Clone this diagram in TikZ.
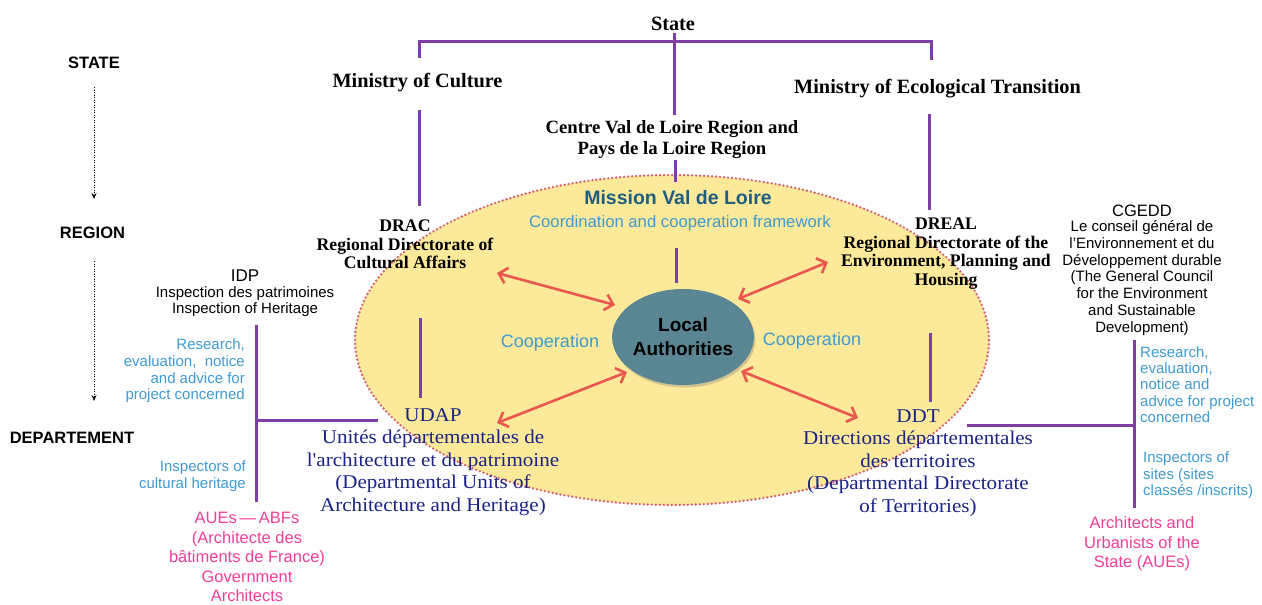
\documentclass[tikz,border=0pt]{standalone}
\usepackage{fontspec}
\setmainfont{Liberation Serif}
\setsansfont{Liberation Sans}
\newfontfamily\deptfont{Liberation Serif}[FakeStretch=1.08]
\usetikzlibrary{arrows.meta,shapes.geometric,shadows}
\definecolor{purp}{HTML}{7D3FA6}
\definecolor{ellfill}{HTML}{FDE99A}
\definecolor{elldot}{HTML}{D45E72}
\definecolor{lacol}{HTML}{5A8693}
\definecolor{mvl}{HTML}{1F5E80}
\definecolor{lblue}{HTML}{3F9AD0}
\definecolor{navyc}{HTML}{1B2385}
\definecolor{pinkc}{HTML}{F23E97}
\definecolor{arrc}{HTML}{E9574E}
\tikzset{
  hdr/.style={font=\bfseries\fontsize{20.3}{23}\selectfont, inner sep=0pt},
  dir/.style={font=\bfseries\fontsize{17.7}{18.6}\selectfont, align=center, inner sep=0pt},
  dept/.style={text=navyc, font=\deptfont\fontsize{19.5}{22.6}\selectfont, align=center, inner sep=0pt},
  lvl/.style={font=\sffamily\bfseries\fontsize{16.5}{18}\selectfont, inner sep=0pt},
  blk/.style={font=\sffamily\fontsize{15}{16.7}\selectfont, align=center, inner sep=0pt},
  note/.style={text=lblue, font=\sffamily\fontsize{15}{16.6}\selectfont, inner sep=0pt},
  pinktxt/.style={text=pinkc, font=\sffamily\fontsize{16.5}{19.4}\selectfont, align=center, inner sep=0pt},
  pline/.style={draw=purp, line width=3pt},
  lvlarrow/.style={draw=black, line width=0.8pt, dash pattern=on 1.2pt off 1.3pt, -{Stealth[length=6pt,width=5pt]}},
  dbl/.style={draw=arrc, line width=2.6pt, {Straight Barb[length=8pt,width=16pt]}-{Straight Barb[length=8pt,width=16pt]}}
}
\begin{document}
\begin{tikzpicture}[x=1pt,y=-1pt]
\useasboundingbox (0,0) rectangle (1262,605);
% mission ellipse
\node[ellipse, minimum width=634pt, minimum height=330pt, inner sep=0pt, fill=ellfill, draw=elldot, line width=2.6pt, line cap=round, dash pattern=on 0pt off 4pt] (mission) at (672,340) {};

% level labels
\node[lvl] (lstate) at (94,63) {STATE};
\node[lvl] (lregion) at (92.5,233) {REGION};
\node[lvl] (ldept) at (72,438) {DEPARTEMENT};
\coordinate (a1) at (94,87);
\coordinate (a2) at (94,199);
\draw[lvlarrow] (a1) -- (a2);
\coordinate (b1) at (94,261);
\coordinate (b2) at (94,401);
\draw[lvlarrow] (b1) -- (b2);

% headers
\node[hdr] (state) at (673,24) {State};
\node[hdr] (minc) at (417.5,83) {Ministry of Culture};
\node[hdr] (mine) at (937.5,89) {Ministry of Ecological Transition};
\node[dir, font=\bfseries\fontsize{18.7}{21}\selectfont] (region) at (672,140) {Centre Val de Loire Region and\\Pays de la Loire Region};

\coordinate (t1) at (419,58);
\coordinate (t2) at (419,41);
\coordinate (t3) at (931,41);
\coordinate (t4) at (931,60);
\draw[pline] (t1) -- (t2) -- (t3) -- (t4);
\coordinate (s1) at (674,33);
\coordinate (s2) at (674,115);
\draw[pline] (s1) -- (s2);

% directorates
\node[dir] (drac) at (405,244.5) {DRAC\\Regional Directorate of\\Cultural Affairs};
\node[dir] (dreal) at (946,253.5) {DREAL\\Regional Directorate of the\\Environment, Planning and\\Housing};
\coordinate (c1) at (419,110);
\coordinate (c2) at (419,206);
\draw[pline] (c1) -- (c2);
\coordinate (e1) at (929,114);
\coordinate (e2) at (929,210);
\draw[pline] (e1) -- (e2);
\coordinate (r1) at (675,160);
\coordinate (r2) at (675,182);
\draw[pline] (r1) -- (r2);

% mission texts
\node[font=\sffamily\bfseries\fontsize{19.5}{22}\selectfont, text=mvl, inner sep=0pt] (mtitle) at (678,198) {Mission Val de Loire};
\node[font=\sffamily\fontsize{16.7}{19}\selectfont, text=lblue, inner sep=0pt] (mframe) at (680,223) {Coordination and cooperation framework};
\coordinate (m1) at (676,248);
\coordinate (m2) at (676,283);
\draw[pline] (m1) -- (m2);

% local authorities
\node[ellipse, minimum width=126pt, minimum height=96pt, inner sep=0pt, fill=lacol,
      drop shadow={shadow xshift=1.5pt, shadow yshift=-2.5pt, opacity=0.35},
      font=\sffamily\bfseries\fontsize{19}{24}\selectfont, align=center] (local) at (683,337) {Local\\Authorities};

\node[font=\sffamily\fontsize{18}{20}\selectfont, text=lblue, inner sep=0pt] (coopl) at (550,343) {Cooperation};
\node[font=\sffamily\fontsize{18}{20}\selectfont, text=lblue, inner sep=0pt] (coopr) at (812,341) {Cooperation};

% departmental units
\node[dept] (udap) at (433,462) {UDAP\\Unités départementales de\\l'architecture et du patrimoine\\(Departmental Units of\\Architecture and Heritage)};
\node[dept] (ddt) at (918,463) {DDT\\Directions départementales\\des territoires\\(Departmental Directorate\\of Territories)};
\coordinate (u1) at (420,318);
\coordinate (u2) at (420,398);
\draw[pline] (u1) -- (u2);
\coordinate (d1) at (930,333);
\coordinate (d2) at (930,402);
\draw[pline] (d1) -- (d2);

% red arrows
\coordinate (ar1) at (497,273); \coordinate (ar2) at (615,305);
\coordinate (ar3) at (828,262); \coordinate (ar4) at (738,299);
\coordinate (ar5) at (497,423); \coordinate (ar6) at (627,372);
\coordinate (ar7) at (858,418); \coordinate (ar8) at (741,371);
\draw[dbl] (ar1) -- (ar2);
\draw[dbl] (ar3) -- (ar4);
\draw[dbl] (ar5) -- (ar6);
\draw[dbl] (ar7) -- (ar8);

% IDP side
\node[font=\sffamily\fontsize{17}{19}\selectfont, inner sep=0pt] (idp) at (245,276) {IDP};
\node[blk] (idpt) at (245,301.5) {Inspection des patrimoines\\Inspection of Heritage};
\node[note, align=right, anchor=east] (lres) at (245,371) {Research,\\evaluation,\ \ notice\\and advice for\\project concerned};
\node[note, align=right, anchor=east] (linsp) at (246,476) {Inspectors of\\cultural heritage};
\node[pinktxt] (laue) at (247,557) {AUEs\,—\,ABFs\\(Architecte des\\bâtiments de France)\\Government\\Architects};
\coordinate (l1) at (256,325);
\coordinate (l2) at (256,502);
\coordinate (l3) at (256,420);
\coordinate (l4) at (378,420);
\draw[pline] (l1) -- (l2);
\draw[pline] (l3) -- (l4);

% CGEDD side
\node[font=\sffamily\fontsize{16.5}{18}\selectfont, inner sep=0pt] (cgedd) at (1142,211) {CGEDD};
\node[blk] (cgeddt) at (1142,278) {Le conseil général de\\l’Environnement et du\\Développement durable\\(The General Council\\for the Environment\\and Sustainable\\Development)};
\node[note, align=left, anchor=west, font=\sffamily\fontsize{15}{16.2}\selectfont] (rres) at (1140,384.5) {Research,\\evaluation,\\notice and\\advice for project\\concerned};
\node[note, align=left, anchor=west, font=\sffamily\fontsize{15}{16.5}\selectfont] (rinsp) at (1143,475.5) {Inspectors of\\sites (sites\\classés /inscrits)};
\node[pinktxt] (raue) at (1142,544) {Architects and\\Urbanists of the\\State (AUEs)};
\coordinate (q1) at (1134,340);
\coordinate (q2) at (1134,508);
\coordinate (q3) at (967,425);
\coordinate (q4) at (1134,425);
\draw[pline] (q1) -- (q2);
\draw[pline] (q3) -- (q4);
\end{tikzpicture}
\end{document}
